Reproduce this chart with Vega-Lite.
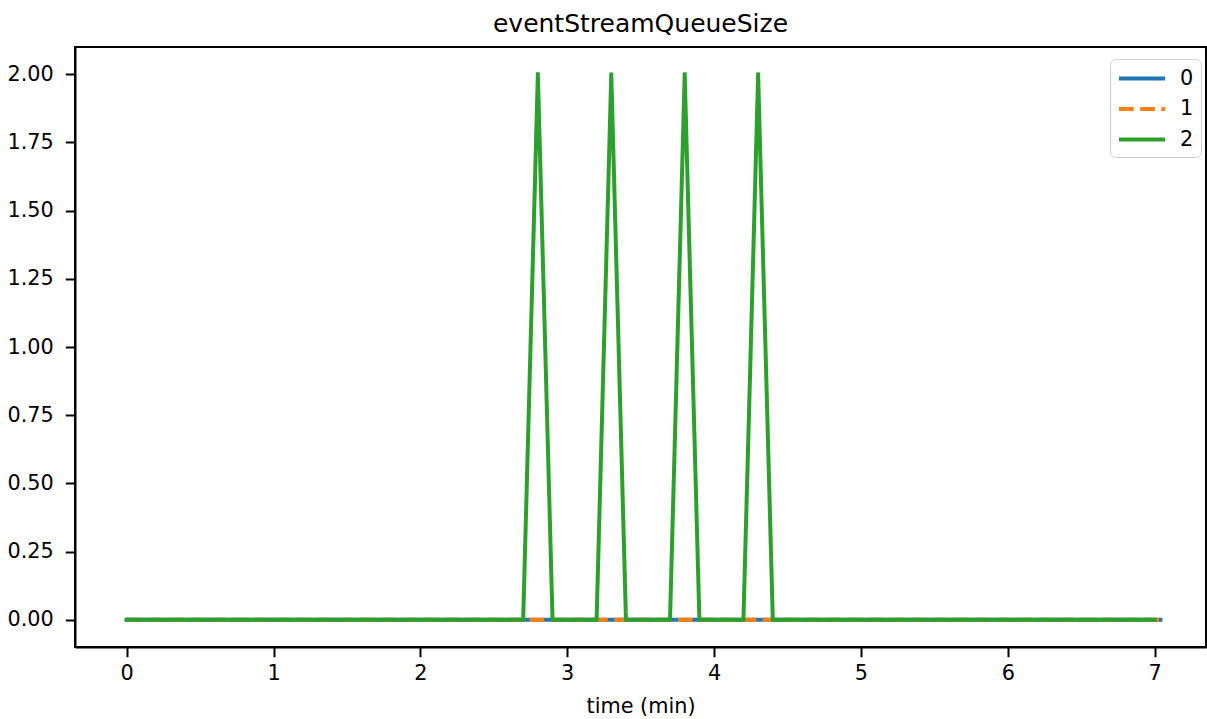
{
  "$schema": "https://vega.github.io/schema/vega-lite/v6.json",
  "autosize": "none",
  "width": 1131,
  "height": 600,
  "padding": {"left": 75, "top": 47, "right": 1, "bottom": 72},
  "background": "white",
  "config": {
    "font": "DejaVu Sans",
    "view": {"stroke": "black", "strokeWidth": 2},
    "axis": {
      "grid": false,
      "domainColor": "black",
      "domainWidth": 2,
      "tickColor": "black",
      "tickWidth": 2,
      "tickSize": 9.7,
      "labelColor": "black",
      "labelFont": "DejaVu Sans",
      "labelFontSize": 20.8,
      "titleFont": "DejaVu Sans",
      "titleFontSize": 20.8,
      "titleFontWeight": "normal",
      "titleColor": "black"
    },
    "title": {"font": "DejaVu Sans", "fontSize": 25, "fontWeight": "normal", "color": "black"}
  },
  "title": {"text": "eventStreamQueueSize", "offset": 10, "anchor": "middle"},
  "data": {
    "values": [
      {"t": 0, "v": 0, "s": "0"},
      {"t": 7.04, "v": 0, "s": "0"},
      {"t": 0, "v": 0, "s": "1"},
      {"t": 7.04, "v": 0, "s": "1"},
      {"t": 0, "v": 0, "s": "2"},
      {"t": 2.7, "v": 0, "s": "2"},
      {"t": 2.8, "v": 2, "s": "2"},
      {"t": 2.9, "v": 0, "s": "2"},
      {"t": 3.2, "v": 0, "s": "2"},
      {"t": 3.3, "v": 2, "s": "2"},
      {"t": 3.4, "v": 0, "s": "2"},
      {"t": 3.7, "v": 0, "s": "2"},
      {"t": 3.8, "v": 2, "s": "2"},
      {"t": 3.9, "v": 0, "s": "2"},
      {"t": 4.2, "v": 0, "s": "2"},
      {"t": 4.3, "v": 2, "s": "2"},
      {"t": 4.4, "v": 0, "s": "2"},
      {"t": 7.0, "v": 0, "s": "2"}
    ]
  },
  "encoding": {
    "x": {
      "field": "t",
      "type": "quantitative",
      "scale": {"domain": [-0.352, 7.35], "nice": false, "zero": false},
      "axis": {"values": [0, 1, 2, 3, 4, 5, 6, 7], "title": "time (min)", "labelPadding": 7, "titlePadding": 13, "labelFlush": false}
    },
    "y": {
      "field": "v",
      "type": "quantitative",
      "scale": {"domain": [-0.1, 2.1], "nice": false, "zero": false},
      "axis": {"values": [0, 0.25, 0.5, 0.75, 1, 1.25, 1.5, 1.75, 2], "format": ".2f", "title": null, "labelPadding": 12, "labelFlush": false}
    },
    "color": {
      "field": "s",
      "type": "nominal",
      "scale": {"domain": ["0", "1", "2"], "range": ["#1f77b4", "#ff7f0e", "#2ca02c"]},
      "legend": {
        "title": null,
        "orient": "none",
        "legendX": 1035,
        "legendY": 12,
        "symbolType": "M-1,0H3.4",
        "symbolSize": 441,
        "symbolStrokeWidth": 4,
        "labelFontSize": 20.8,
        "labelColor": "black",
        "labelOffset": 38,
        "padding": 7,
        "rowPadding": 7.5,
        "strokeColor": "#cccccc",
        "fillColor": "rgba(255,255,255,0.8)",
        "cornerRadius": 6
      }
    },
    "strokeDash": {
      "field": "s",
      "type": "nominal",
      "scale": {"domain": ["0", "1", "2"], "range": [[1, 0], [14.7, 6.5], [1, 0]]},
      "legend": null
    }
  },
  "layer": [
    {
      "transform": [{"filter": "datum.s === '0'"}],
      "mark": {"type": "line", "strokeWidth": 4, "strokeJoin": "round", "strokeCap": "square", "clip": true}
    },
    {
      "transform": [{"filter": "datum.s === '1'"}],
      "mark": {"type": "line", "strokeWidth": 4, "strokeJoin": "round", "strokeCap": "butt", "clip": true}
    },
    {
      "transform": [{"filter": "datum.s === '2'"}],
      "mark": {"type": "line", "strokeWidth": 4, "strokeJoin": "round", "strokeCap": "square", "clip": true}
    }
  ]
}
